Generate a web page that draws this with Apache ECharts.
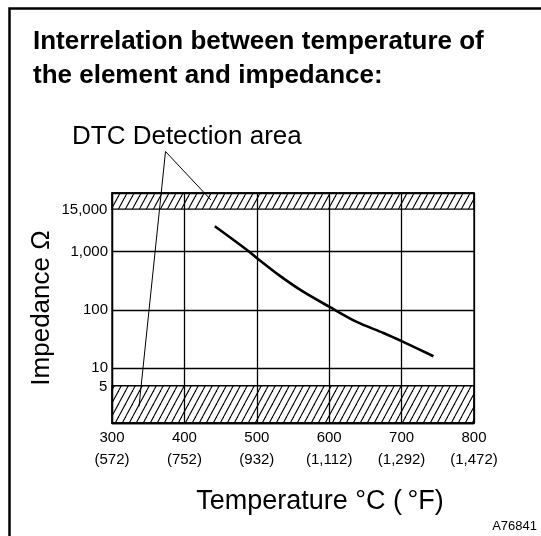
<!DOCTYPE html>
<html lang="en">
<head>
<meta charset="UTF-8" />
<title>Impedance vs temperature</title>
<script src="https://cdn.jsdelivr.net/npm/echarts@6/dist/echarts.min.js"></script>
<style>html, body { margin: 0; padding: 0; background: #fff; }</style>
</head>
<body>
<div id="main" style="width: 541px; height: 536px"></div>
<script type="text/javascript">
  // x axis: degrees C with the Fahrenheit value underneath
  const tempC = [300, 400, 500, 600, 700, 800];
  const tempF = ["(572)", "(752)", "(932)", "(1,112)", "(1,292)", "(1,472)"];
  // y axis labels on the log scale
  const yLabels = { 10: "10", 100: "100", 1000: "1,000" };
  // impedance curve
  const curveTemp = [442, 486, 500, 532, 564, 600, 638, 675, 700, 744];
  const curveOhm = [2700, 1070, 770, 380, 204, 113, 62, 40, 29, 16];
  // DTC detection bands (the picture squeezes the top band: 15,000 sits where ~5,300 would be)
  const lowBand = [1.15, 5];
  const highBand = [5300, 10000];

  const font = "Liberation Sans, Arial, sans-serif";

  function hatch() {
    const c = document.createElement("canvas");
    c.width = 7;
    c.height = 13;
    const g = c.getContext("2d");
    g.strokeStyle = "#000";
    g.lineWidth = 1.1;
    for (const dx of [-7, 0, 7]) {
      g.beginPath();
      g.moveTo(dx, 13);
      g.lineTo(dx + 7, 0);
      g.stroke();
    }
    return c;
  }

  let myChart = echarts.init(document.getElementById("main"));
  let options = {
    animation: false,
    textStyle: { fontFamily: font, color: "#000" },
    grid: { left: 112, right: 67, top: 193, bottom: 113, show: true, borderColor: "#000", borderWidth: 1.3 },
    xAxis: {
      type: "value",
      min: 300,
      max: 800,
      interval: 100,
      axisLine: { lineStyle: { color: "#000", width: 1.3 } },
      axisTick: { show: false },
      splitLine: { lineStyle: { color: "#000", width: 1.3 } },
      axisLabel: {
        margin: 4,
        formatter: (v) => "{c|" + v + "}\n{f|" + tempF[tempC.indexOf(v)] + "}",
        rich: {
          c: { fontSize: 15, lineHeight: 22, color: "#000", fontFamily: font },
          f: { fontSize: 15, lineHeight: 22, color: "#000", fontFamily: font },
        },
      },
      name: "Temperature °C (\u2009°F)",
      nameLocation: "middle",
      nameGap: 65,
      nameTextStyle: { fontSize: 27, color: "#000", fontFamily: font, padding: [0, 0, 0, 54] },
    },
    yAxis: {
      type: "log",
      logBase: 10,
      min: lowBand[0],
      max: highBand[1],
      axisLine: { show: true, lineStyle: { color: "#000", width: 1.3 } },
      axisTick: { show: false },
      splitLine: { lineStyle: { color: "#000", width: 1.3 } },
      axisLabel: {
        margin: 4,
        fontSize: 15,
        color: "#000",
        formatter: (v) => yLabels[Math.round(v)] || "",
      },
      name: "Impedance Ω",
      nameLocation: "middle",
      nameGap: 57,
      nameTextStyle: { fontSize: 26, color: "#000", fontFamily: font },
    },
    series: [
      {
        type: "line",
        data: curveTemp.map((t, i) => [t, curveOhm[i]]),
        smooth: 0.3,
        symbol: "none",
        lineStyle: { color: "#000", width: 2.6 },
        markArea: {
          silent: true,
          itemStyle: {
            color: { image: hatch(), repeat: "repeat" },
            borderColor: "#000",
            borderWidth: 1.3,
          },
          label: { show: true, fontSize: 15, color: "#000", fontFamily: font, align: "right", verticalAlign: "middle" },
          data: [
            [{ yAxis: lowBand[0], label: { formatter: "5", position: [-4, 2] } }, { yAxis: lowBand[1] }],
            [{ yAxis: highBand[0], label: { formatter: "15,000", position: [-4, "100%"] } }, { yAxis: highBand[1] }],
          ],
        },
      },
    ],
    graphic: [
      {
        type: "polyline",
        z: 100,
        shape: { points: [[9.5, 545], [9.5, 8.5], [545, 8.5]] },
        style: { stroke: "#000", lineWidth: 2.5, fill: null },
      },
      {
        type: "text",
        left: 33,
        top: 25,
        style: {
          text: "Interrelation between temperature of\nthe element and impedance:",
          font: "bold 26px " + font,
          lineHeight: 34,
          fill: "#000",
        },
      },
      {
        type: "text",
        left: 72,
        top: 124,
        style: { text: "DTC Detection area", font: "26px " + font, fill: "#000" },
      },
      {
        type: "polyline",
        z: 100,
        shape: { points: [[139, 406.5], [165.5, 151.5], [211, 200]] },
        style: { stroke: "#000", lineWidth: 1, fill: null },
      },
      {
        type: "text",
        right: 4,
        top: 520,
        style: { text: "A76841", font: "13px " + font, fill: "#000" },
      },
    ],
  };
  myChart.setOption(options);
</script>
</body>
</html>
